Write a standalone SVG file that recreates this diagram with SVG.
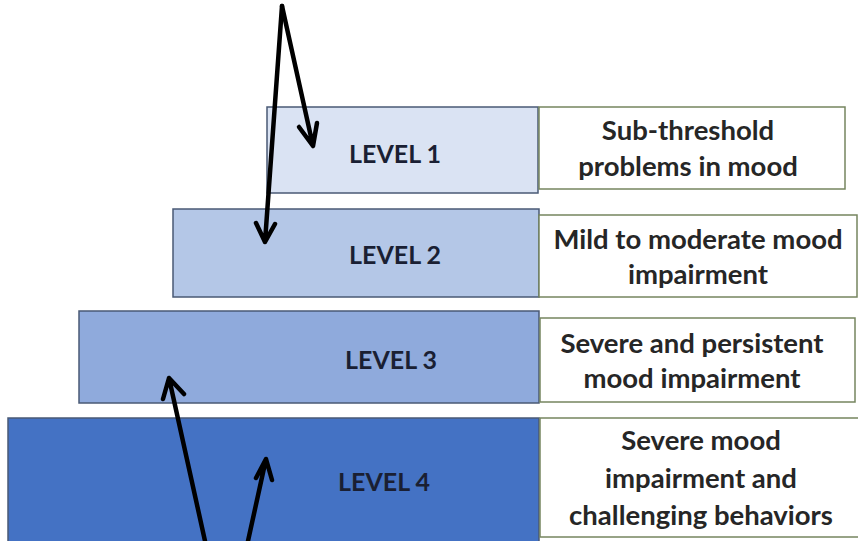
<svg xmlns="http://www.w3.org/2000/svg" width="858" height="541" viewBox="0 0 858 541">
<style>
.lvl{stroke:#4a5a75;stroke-width:1.5}
.desc{fill:#ffffff;stroke:#76855f;stroke-width:1.5}
.lt{font-family:Lato,"Liberation Sans",sans-serif;font-weight:bold;font-size:25px;fill:#1a1f33;text-anchor:middle}
.dt{font-family:Lato,"Liberation Sans",sans-serif;font-weight:bold;font-size:27.5px;fill:#262626;text-anchor:middle}
.arr{stroke:#000;stroke-width:4.5;fill:none;stroke-linecap:round;stroke-linejoin:round}
</style>
<rect width="858" height="541" fill="#ffffff"/>
<g id="level1">
<rect class="lvl" x="267" y="107" width="271" height="86" fill="#dae3f3"/>
<text class="lt" x="395" y="163">LEVEL 1</text>
</g>
<g id="desc1">
<rect class="desc" x="539" y="107" width="306" height="82"/>
<text class="dt" x="688" y="140">Sub-threshold</text>
<text class="dt" x="688" y="176">problems in mood</text>
</g>
<g id="level2">
<rect class="lvl" x="173" y="209" width="366" height="88" fill="#b4c7e7"/>
<text class="lt" x="395" y="264">LEVEL 2</text>
</g>
<g id="desc2">
<rect class="desc" x="539" y="215" width="318" height="82"/>
<text class="dt" x="698" y="249">Mild to moderate mood</text>
<text class="dt" x="698" y="284">impairment</text>
</g>
<g id="level3">
<rect class="lvl" x="79" y="311" width="460" height="92" fill="#8faadc"/>
<text class="lt" x="391" y="369">LEVEL 3</text>
</g>
<g id="desc3">
<rect class="desc" x="540" y="318" width="315" height="84"/>
<text class="dt" x="692" y="353">Severe and persistent</text>
<text class="dt" x="692" y="388">mood impairment</text>
</g>
<g id="level4">
<rect class="lvl" x="8" y="418" width="531" height="130" fill="#4472c4"/>
<text class="lt" x="384" y="491">LEVEL 4</text>
</g>
<g id="desc4">
<rect class="desc" x="540" y="418" width="320" height="119"/>
<text class="dt" x="701" y="450">Severe mood</text>
<text class="dt" x="701" y="488">impairment and</text>
<text class="dt" x="701" y="525">challenging behaviors</text>
</g>
<g id="connectors">
<path class="arr" d="M282 6 L313 146 M299 127 L313 146 L317 123"/>
<path class="arr" d="M282 6 L265 242 M256 223 L265 242 L275 224"/>
<path class="arr" d="M205 541 L169 378 M163 399 L169 378 L184 394"/>
<path class="arr" d="M248 541 L266 459 M256 478 L266 459 L272 480"/>
</g>
</svg>
